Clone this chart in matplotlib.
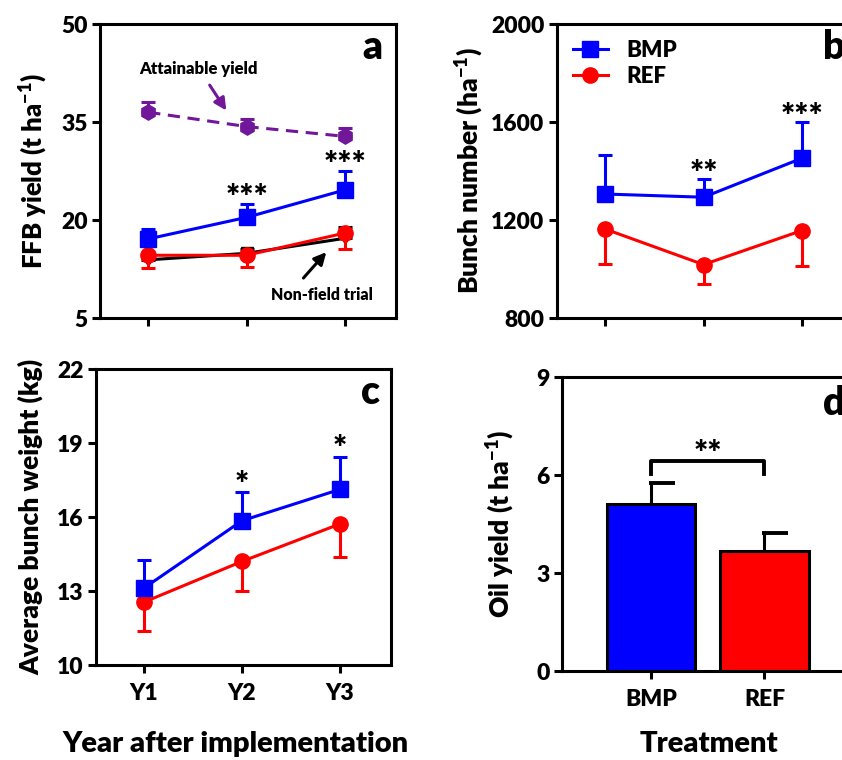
import numpy as np
import matplotlib
matplotlib.use("Agg")
from matplotlib import pyplot as plt
from matplotlib.lines import Line2D

plt.rcParams['font.family'] = ['Lato', 'DejaVu Sans']
plt.rcParams['font.weight'] = 'heavy'
plt.rcParams['mathtext.fontset'] = 'custom'
plt.rcParams['mathtext.rm'] = 'Lato:heavy'
plt.rcParams['mathtext.bf'] = 'Lato:heavy'
plt.rcParams['mathtext.default'] = 'rm'
WT = 'heavy'

years = ['Y1', 'Y2', 'Y3']

# FFB yield (t/ha)
att_a = [36.5, 34.3, 32.8]
att_a_err = [1.6, 1.2, 1.3]
bmp_a = [17.1, 20.4, 24.6]
bmp_a_err = [1.5, 2.0, 2.9]
ref_a = [14.6, 14.6, 18.0]
ref_a_err = [2.0, 1.8, 2.4]
nft_a = [13.9, 14.9, 17.2]
nft_a_err = [0.6, 0.7, 1.7]

# bunch number (/ha)
bmp_b = [1306, 1293, 1452]
bmp_b_err = [159, 74, 150]
ref_b = [1163, 1018, 1157]
ref_b_err = [143, 79, 145]

# average bunch weight (kg)
bmp_c = [13.12, 15.85, 17.12]
bmp_c_err = [1.14, 1.15, 1.33]
ref_c = [12.55, 14.2, 15.72]
ref_c_err = [1.17, 1.2, 1.34]

# oil yield (t/ha)
treatments = ['BMP', 'REF']
oil = [5.11, 3.67]
oil_err = [0.64, 0.55]

sig_a = {1: '***', 2: '***'}
sig_b = {1: '**', 2: '***'}
sig_c = {1: '*', 2: '*'}

BLUE = '#0000FF'
RED = '#FF0000'
PURPLE = '#70179A'
LW = 2.2
TICK_FS = 16.5

W, H = 842, 760
fig = plt.figure(figsize=(W / 100, H / 100), dpi=100)


def px_axes(left, top, right, bottom):
    return fig.add_axes([left / W, 1 - bottom / H, (right - left) / W, (bottom - top) / H])


def style(ax, ylim, yticks):
    for s in ax.spines.values():
        s.set_linewidth(LW)
    ax.set_ylim(*ylim)
    ax.set_yticks(yticks)
    ax.tick_params(direction='out', length=6, width=LW, labelsize=TICK_FS, pad=3,
                   top=False, right=False)


def heavy_ticks(ax):
    for lab in ax.get_yticklabels() + ax.get_xticklabels():
        lab.set_fontweight(WT)
        lab.set_fontsize(TICK_FS)


def up_series(ax, x, y, err, color, marker, ms, z):
    ax.errorbar(x, y, yerr=[np.zeros(len(y)), err], color=color, lw=LW, marker=marker,
                ms=ms, capsize=5, capthick=LW, elinewidth=LW, zorder=z)


def down_series(ax, x, y, err, color, marker, ms, z):
    ax.errorbar(x, y, yerr=[err, np.zeros(len(y))], color=color, lw=LW, marker=marker,
                ms=ms, capsize=5, capthick=LW, elinewidth=LW, zorder=z)


def stars(ax, x, tops, marks, dy):
    for i, txt in marks.items():
        ax.annotate(txt, (x[i], tops[i]), xytext=(0, dy), textcoords='offset points',
                    ha='center', va='baseline', fontsize=24, fontweight=WT)


def panel_letter(ax, s, xf, yf):
    ax.text(xf, yf, s, transform=ax.transAxes, ha='center', va='center', fontsize=28,
            fontweight=WT)


x = np.arange(len(years))

# --- a: FFB yield
ax = px_axes(100, 24, 396, 318)
style(ax, (5, 50), [5, 20, 35, 50])
ax.set_xlim(-0.49, 2.52)
ax.set_xticks(x)
ax.set_xticklabels([])
heavy_ticks(ax)
ax.errorbar(x, att_a, yerr=[np.zeros(3), att_a_err], color=PURPLE, lw=LW, ls=(0, (4, 2.5)),
            marker='h', ms=11, capsize=5, capthick=LW, elinewidth=LW, zorder=3)
up_series(ax, x, nft_a, nft_a_err, 'black', 'v', 9, 3)
down_series(ax, x, ref_a, ref_a_err, RED, 'o', 11, 4)
up_series(ax, x, bmp_a, bmp_a_err, BLUE, 's', 11, 4)
stars(ax, x, np.add(bmp_a, bmp_a_err), sig_a, -3.5)
ax.text(0.51, 43.1, 'Attainable yield', ha='center', va='center', fontsize=12, fontweight=WT)
ax.annotate('', xy=(0.81, 36.4), xytext=(0.61, 41.0),
            arrowprops=dict(arrowstyle='-|>', color=PURPLE, lw=2.2, mutation_scale=18))
ax.text(1.77, 8.5, 'Non-field trial', ha='center', va='center', fontsize=11.5, fontweight=WT)
ax.annotate('', xy=(1.83, 15.4), xytext=(1.56, 10.8),
            arrowprops=dict(arrowstyle='-|>', color='black', lw=2.2, mutation_scale=18))
panel_letter(ax, 'a', 0.92, 0.92)
ax.set_ylabel(r'FFB yield (t ha$^{-1}$)', fontsize=18.5, fontweight=WT, labelpad=8)

# --- b: bunch number
ax = px_axes(557, 24, 853, 318)
style(ax, (800, 2000), [800, 1200, 1600, 2000])
ax.set_xlim(-0.49, 2.52)
ax.set_xticks(x)
ax.set_xticklabels([])
heavy_ticks(ax)
down_series(ax, x, ref_b, ref_b_err, RED, 'o', 11, 4)
up_series(ax, x, bmp_b, bmp_b_err, BLUE, 's', 11, 4)
stars(ax, x, np.add(bmp_b, bmp_b_err), sig_b, -4.5)
handles = [Line2D([], [], color=BLUE, lw=LW, marker='s', ms=11),
           Line2D([], [], color=RED, lw=LW, marker='o', ms=11)]
leg = ax.legend(handles, ['BMP', 'REF'], loc='upper left', frameon=False,
                handlelength=1.6, borderaxespad=0.3, labelspacing=0.25,
                prop={'weight': WT, 'size': 16})
for t in leg.get_texts():
    t.set_fontweight(WT)
panel_letter(ax, 'b', 0.937, 0.92)
ax.set_ylabel(r'Bunch number (ha$^{-1}$)', fontsize=19, fontweight=WT, labelpad=4)

# --- c: average bunch weight
ax = px_axes(96, 369, 391, 665)
style(ax, (10, 22), [10, 13, 16, 19, 22])
ax.set_xlim(-0.49, 2.52)
ax.set_xticks(x)
ax.set_xticklabels(years)
ax.tick_params(axis='x', pad=7)
heavy_ticks(ax)
down_series(ax, x, ref_c, ref_c_err, RED, 'o', 11, 4)
up_series(ax, x, bmp_c, bmp_c_err, BLUE, 's', 11, 4)
stars(ax, x, np.add(bmp_c, bmp_c_err), sig_c, -2.5)
panel_letter(ax, 'c', 0.93, 0.92)
ax.set_ylabel('Average bunch weight (kg)', fontsize=19, fontweight=WT, labelpad=10)

# --- d: oil yield
ax = px_axes(562, 377, 855, 671)
style(ax, (0, 9), [0, 3, 6, 9])
xb = np.arange(len(treatments))
ax.set_xlim(-0.79, 1.8)
ax.set_xticks(xb)
ax.set_xticklabels(treatments)
ax.tick_params(axis='x', pad=7)
heavy_ticks(ax)
ax.bar(xb, oil, width=0.78, color=[BLUE, RED], edgecolor='black', linewidth=LW, zorder=2)
tops = np.add(oil, oil_err)
ax.vlines(xb, oil, tops, color='black', lw=LW, zorder=3)
ax.hlines(tops, xb - 0.02, xb + 0.21, color='black', lw=LW + 0.6, zorder=3)
ax.plot([0, 0, 1, 1], [6.02, 6.42, 6.42, 6.02], color='black', lw=LW + 0.6, zorder=3)
ax.text(0.5, 6.3, '**', ha='center', va='baseline', fontsize=24, fontweight=WT)
panel_letter(ax, 'd', 0.93, 0.91)
ax.set_ylabel(r'Oil yield (t ha$^{-1}$)', fontsize=19, fontweight=WT, labelpad=14)

fig.text(236 / W, 1 - 752 / H, 'Year after implementation', ha='center', va='baseline',
         fontsize=21, fontweight=WT)
fig.text(709 / W, 1 - 752 / H, 'Treatment', ha='center', va='baseline',
         fontsize=21, fontweight=WT)

fig.savefig('out.png', dpi=100)
